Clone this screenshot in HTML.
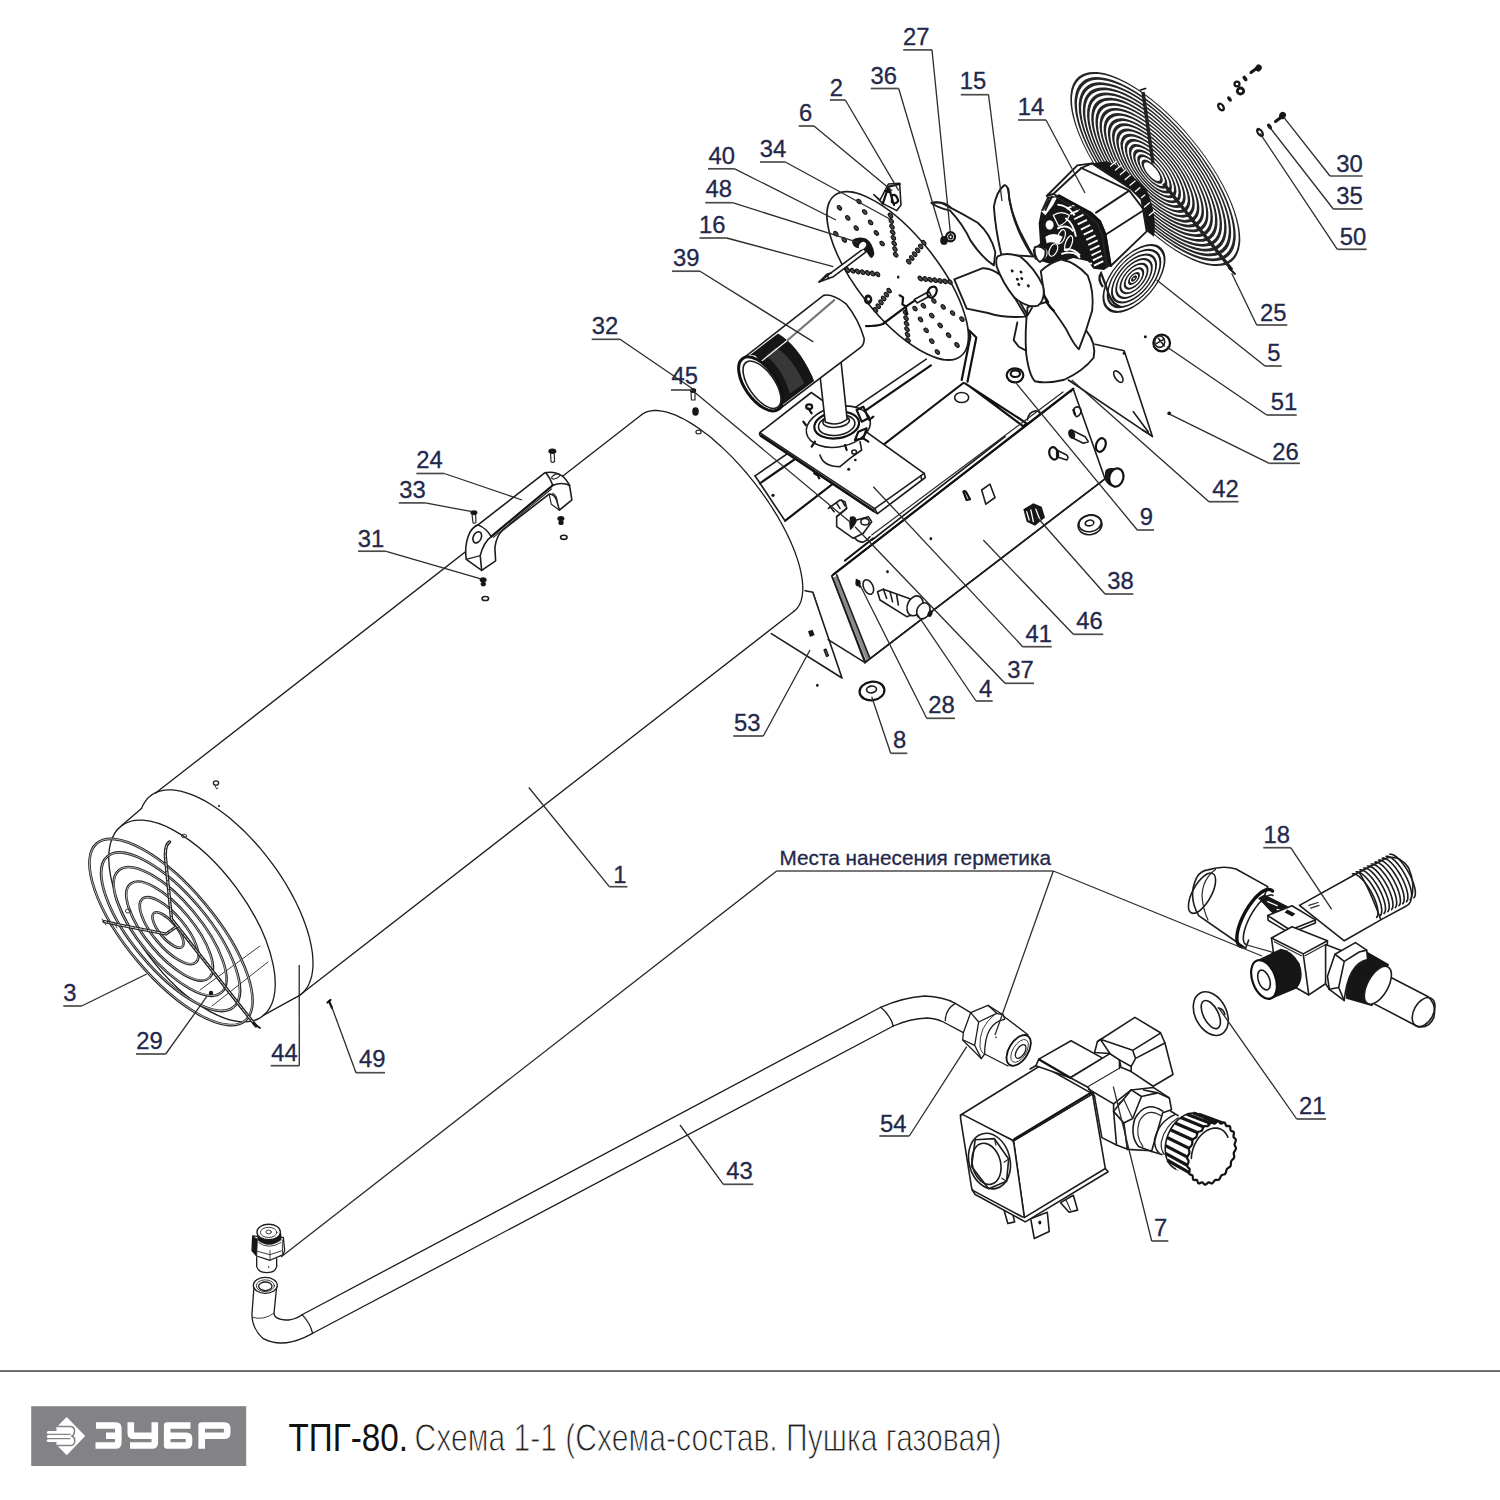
<!DOCTYPE html>
<html><head><meta charset="utf-8"><title>TPG-80</title>
<style>
html,body{margin:0;padding:0;background:#fff;}
body{width:1500px;height:1500px;overflow:hidden;font-family:"Liberation Sans",sans-serif;}
svg{display:block;position:absolute;left:0;top:0;}
svg text{font-family:"Liberation Sans",sans-serif;}
.k,.kw,.t,.tw,.b,.bw,.ld,.g1,.g2{vector-effect:non-scaling-stroke;}
.k{stroke:#1c1c1c;fill:none;stroke-width:1.3;stroke-linecap:round;stroke-linejoin:round;}
.kw{stroke:#1c1c1c;fill:#fff;stroke-width:1.3;stroke-linecap:round;stroke-linejoin:round;}
.t{stroke:#2a2a2a;fill:none;stroke-width:0.9;stroke-linecap:round;stroke-linejoin:round;}
.tw{stroke:#2a2a2a;fill:#fff;stroke-width:0.9;stroke-linecap:round;stroke-linejoin:round;}
.b{stroke:#111;fill:none;stroke-width:1.8;stroke-linecap:round;stroke-linejoin:round;}
.bw{stroke:#111;fill:#fff;stroke-width:1.8;stroke-linecap:round;stroke-linejoin:round;}
.hv .k,.hv .kw{stroke-width:1.6;}
.hv .b,.hv .bw{stroke-width:2.2;}
.hv .t,.hv .tw{stroke-width:1.2;}
.hv .hv2 .k,.hv .hv2 .kw{stroke-width:1.9;}
.f{fill:#161616;stroke:none;}
.g1{stroke:#222;fill:none;stroke-width:2.6;stroke-linecap:round;stroke-linejoin:round;}
.g2{stroke:#ddd;fill:none;stroke-width:0.8;stroke-linecap:round;stroke-linejoin:round;}
.w{fill:#fff;stroke:none;}
.sc{stroke:#151515;stroke-width:3;fill:none;stroke-linecap:round;}
.vb1{stroke:#222;fill:none;stroke-width:3.3;stroke-linecap:round;stroke-linejoin:round;}
.vb2{stroke:#ddd;fill:none;stroke-width:1.0;stroke-linecap:round;stroke-linejoin:round;stroke-dasharray:3 1.5;}
.ring{stroke:#111;stroke-width:3.4;fill:none;vector-effect:non-scaling-stroke;stroke-linecap:round;}
.hole{fill:#4a4a4a;stroke:#111;stroke-width:1.1;vector-effect:non-scaling-stroke;}
.rim{fill:#fff;stroke:#111;stroke-width:3;vector-effect:non-scaling-stroke;}
.kwh{stroke:#fff;stroke-width:1.2;fill:none;vector-effect:non-scaling-stroke;}
.hs{stroke:#777;stroke-width:2.2;fill:none;vector-effect:non-scaling-stroke;}
.ws{stroke:#fff;stroke-width:1.3;fill:none;vector-effect:non-scaling-stroke;stroke-linecap:round;}
.ws3{stroke:#fff;stroke-width:1.9;fill:none;vector-effect:non-scaling-stroke;stroke-linecap:butt;}
.ws2{stroke:#fff;stroke-width:1.2;fill:none;vector-effect:non-scaling-stroke;}
.gr1{stroke:#1a1a1a;fill:none;stroke-width:2.5;}
.gr2{stroke:#e8e8e8;fill:none;stroke-width:0.7;}
.sp1{stroke:#222;fill:none;stroke-width:3.4;}
.s51{stroke:#1c1c1c;fill:none;stroke-width:2.2;}
.s52{stroke:#f0f0f0;fill:none;stroke-width:0.7;}
.tooth{stroke:#151515;stroke-width:3.2;fill:none;vector-effect:non-scaling-stroke;stroke-linecap:butt;}
.ld{stroke:#2c2c2c;fill:none;stroke-width:1.3;}
.ul{stroke:#4a4a4a;fill:none;stroke-width:1.7;}
.lb{font-size:23.8px;fill:#23284a;stroke:#23284a;stroke-width:0.3;}
</style></head><body>
<svg width="1500" height="1500" viewBox="0 0 1500 1500">
<!-- parts_main -->
<path class="k" d="M641.6 414.7L643.6 413.3L645.9 412.2L648.4 411.4L651 410.8L653.9 410.5L656.9 410.5L660.1 410.8L663.4 411.4L666.9 412.2L670.5 413.3L674.3 414.7L678.2 416.4L682.2 418.3L686.3 420.5L690.4 422.9L694.7 425.6L699 428.5L703.3 431.7L707.8 435L712.2 438.6L716.6 442.4L721.1 446.4L725.5 450.6L729.9 454.9L734.3 459.4L738.7 464.1L742.9 468.9L747.2 473.8L751.3 478.8L755.3 483.9L759.3 489.1L763.1 494.3L766.8 499.6L770.4 505L773.8 510.3L777.1 515.7L780.2 521L783.1 526.4L785.9 531.7L788.4 536.9L790.8 542.1L793 547.2L795 552.2L796.7 557.1L798.3 561.9L799.6 566.6L800.7 571.1L801.5 575.4L802.2 579.6L802.6 583.6L802.8 587.4L802.7 591L802.4 594.3L801.9 597.5L801.2 600.4L800.2 603.1L799 605.5L797.6 607.7L795.9 609.6L794 611.3"/>
<path class="k" d="M155.6 793L641.6 414.7"/>
<path class="k" d="M298 996.5L794 611.3"/>
<path class="k" d="M141.5 808.5L143 805.1L144.8 802.1L146.8 799.3L149.1 796.9L151.6 794.9L154.5 793.2L157.5 791.8L160.8 790.8L164.4 790.1L168.1 789.9L172 789.9L176.2 790.4L180.5 791.2L184.9 792.3L189.5 793.8L194.2 795.7L199.1 797.9L204 800.4L209 803.3L214 806.5L219.1 810L224.2 813.8L229.4 817.8L234.5 822.2L239.5 826.7L244.6 831.5L249.5 836.6L254.4 841.8L259.2 847.2L263.9 852.8L268.4 858.6L272.8 864.4L277.1 870.4L281.1 876.4L285 882.5L288.6 888.7L292.1 894.9L295.3 901L298.3 907.2L301 913.3L303.4 919.3L305.6 925.3L307.6 931.2L309.2 936.9L310.5 942.5L311.6 947.9L312.4 953.2L312.8 958.2L313 963L312.9 967.6L312.4 972L311.7 976.1L310.6 979.8L309.3 983.3L307.7 986.5L305.8 989.4L303.6 992L301.2 994.2L298.5 996.1L295.5 997.6"/>
<ellipse class="k" cx="192" cy="921" rx="118.5" ry="55.4" transform="rotate(53.6 192 921)"/>
<path class="k" d="M121.7 825.6L141.5 808.5"/>
<path class="k" d="M263.3 1015.4L295.5 997.6"/>
<path class="t" d="M200 990L260 946"/>
<path class="t" d="M212 1006L268 962"/>
<ellipse class="g1" cx="171" cy="932" rx="115.6" ry="44.3" transform="rotate(50.1 171 932)"/>
<ellipse class="g2" cx="171" cy="932" rx="115.6" ry="44.3" transform="rotate(50.1 171 932)"/>
<ellipse class="g1" cx="170.6" cy="931.7" rx="98.3" ry="37.7" transform="rotate(50.1 170.6 931.7)"/>
<ellipse class="g2" cx="170.6" cy="931.7" rx="98.3" ry="37.7" transform="rotate(50.1 170.6 931.7)"/>
<ellipse class="g1" cx="170.1" cy="931.4" rx="79.8" ry="30.6" transform="rotate(50.1 170.1 931.4)"/>
<ellipse class="g2" cx="170.1" cy="931.4" rx="79.8" ry="30.6" transform="rotate(50.1 170.1 931.4)"/>
<ellipse class="g1" cx="169.6" cy="931.1" rx="61.3" ry="23.5" transform="rotate(50.1 169.6 931.1)"/>
<ellipse class="g2" cx="169.6" cy="931.1" rx="61.3" ry="23.5" transform="rotate(50.1 169.6 931.1)"/>
<ellipse class="g1" cx="169.1" cy="930.7" rx="41.6" ry="15.9" transform="rotate(50.1 169.1 930.7)"/>
<ellipse class="g2" cx="169.1" cy="930.7" rx="41.6" ry="15.9" transform="rotate(50.1 169.1 930.7)"/>
<ellipse class="g1" cx="168" cy="930" rx="22" ry="8.4" transform="rotate(50.1 168 930)"/>
<ellipse class="g2" cx="168" cy="930" rx="22" ry="8.4" transform="rotate(50.1 168 930)"/>
<path class="vb1" d="M169.5 842 Q164.5 845 165.5 858 L171.5 919 L256 1026"/>
<path class="vb1" d="M104 921.5 L120 925 L166 934 L176 927"/>
<path class="vb2" d="M169.5 842 Q164.5 845 165.5 858 L171.5 919 L256 1026"/>
<path class="vb2" d="M104 921.5 L120 925 L166 934 L176 927"/>
<path class="t" d="M102 919 l4 6 M108 920 l3 6 M114 922 l3 6"/>
<path class="b" d="M253 1023 l7 5"/>
<ellipse class="t" cx="184" cy="836" rx="2.6" ry="1.8" transform="rotate(0 184 836)"/>
<ellipse class="t" cx="128" cy="911" rx="2.6" ry="2" transform="rotate(0 128 911)"/>
<circle class="f" cx="211" cy="993" r="2.2"/>
<ellipse class="k" cx="216" cy="783" rx="2.6" ry="2.2" transform="rotate(0 216 783)"/>
<path class="t" d="M215 785 l1.5 4 l1.5 -1"/>
<circle class="f" cx="219" cy="806" r="1"/>
<g class="hv">
<g transform="translate(390,420) scale(0.14667)">
<path class="kw" d="M600 715 L1055 360 Q1120 345 1180 385 Q1225 430 1228 470 L1240 545 L1155 615 L1140 560 Q1125 505 1085 505 L770 750 Q725 790 715 870 L720 960 L625 1025 L520 950 Q505 850 545 765 Q570 725 600 715Z"/>
<path class="b" d="M690 795 L1110 445"/>
<path class="t" d="M705 800 L1100 470"/>
<path class="k" d="M600 715 Q660 740 690 795 Q640 830 615 925 L625 1025"/>
<path class="t" d="M520 950 L615 925"/>
<ellipse class="k" cx="595" cy="800" rx="27" ry="40" transform="rotate(25 595 800)"/>
<ellipse class="t" cx="1130" cy="385" rx="30" ry="14" transform="rotate(-25 1130 385)"/>
<path class="k" d="M1062 358 Q1095 400 1110 445 Q1170 420 1226 445"/>
<path class="t" d="M1085 505 L1100 575 L1155 615 M1110 500 Q1140 520 1140 560"/>
<ellipse class="f" cx="1107" cy="213" rx="27" ry="18" transform="rotate(0 1107 213)"/>
<path class="t" d="M1095 230 L1098 285 Q1110 295 1122 283 L1120 230"/>
<ellipse class="f" cx="572" cy="633" rx="24" ry="17" transform="rotate(0 572 633)"/>
<path class="t" d="M560 650 L566 700 Q576 708 586 698 L584 650"/>
<ellipse class="f" cx="1165" cy="672" rx="24" ry="18" transform="rotate(0 1165 672)"/>
<ellipse class="f" cx="1166" cy="700" rx="18" ry="16" transform="rotate(0 1166 700)"/>
<ellipse class="f" cx="635" cy="1090" rx="24" ry="18" transform="rotate(0 635 1090)"/>
<ellipse class="f" cx="636" cy="1118" rx="18" ry="16" transform="rotate(0 636 1118)"/>
<ellipse class="k" cx="1185" cy="800" rx="22" ry="14" transform="rotate(0 1185 800)"/>
<ellipse class="k" cx="650" cy="1217" rx="22" ry="14" transform="rotate(0 650 1217)"/>
</g>
</g>
<!-- parts_box -->
<g class="hv">
<path class="k" d="M755 475.8L926.3 359.1"/>
<path class="b" d="M760 483.3L930.9 365.3"/>
<path class="b" d="M963.3 383L785 520.8"/>
<path class="k" d="M755 475.8L785 520.8"/>
<circle class="f" cx="773" cy="495.3" r="1.6"/>
<g transform="translate(940,330) scale(0.16667)">
<path class="b" d="M130 300 L182 40 L172 0 M165 310 L218 45 L172 0"/>
<path class="b" d="M150 320 L520 560 M178 338 L500 578 L520 560"/>
<path class="k" d="M525 540 Q530 490 575 485 Q600 490 600 505"/>
<ellipse class="k" cx="130" cy="405" rx="42" ry="30" transform="rotate(0 130 405)"/>
</g>
<g transform="translate(730,400) scale(0.16667)">
<path class="kw" d="M180 195 L488 -45 L1165 440 L1172 465 L885 682 L860 668 L185 218 Q172 205 180 195Z"/>
<path class="k" d="M180 197 L868 652 L1165 440"/>
<path class="b" d="M188 214 L862 664"/>
<path class="k" d="M868 652 L885 682 M1145 455 L1150 478"/>
<path class="b" d="M500 425 l25 20 l10 25 M505 440 l25 15"/>
<path class="k" d="M540 330 Q560 400 660 400 L720 350 L790 300 L780 250"/>
<ellipse class="f" cx="712" cy="415" rx="9" ry="9" transform="rotate(0 712 415)"/>
<ellipse class="f" cx="752" cy="360" rx="8" ry="8" transform="rotate(0 752 360)"/>
<ellipse class="k" cx="745" cy="312" rx="14" ry="12" transform="rotate(0 745 312)"/>
<ellipse class="kw" cx="650" cy="160" rx="195" ry="120" transform="rotate(-12 650 160)"/>
<ellipse class="bw" cx="640" cy="150" rx="135" ry="80" transform="rotate(-8 640 150)"/>
<ellipse class="k" cx="640" cy="150" rx="110" ry="62" transform="rotate(-8 640 150)"/>
<path class="b" d="M455 150 L440 130 M510 250 L490 280 M835 120 L860 100 M800 230 L830 250 M690 270 L700 300"/>
<ellipse class="b" cx="475" cy="40" rx="18" ry="14" transform="rotate(0 475 40)"/>
<path class="b" d="M470 50 L490 80"/>
<path class="b" d="M760 60 L800 40 L830 110 L790 130Z M770 190 L820 170 L800 230 L750 240Z"/>
<ellipse class="kw" cx="637" cy="128" rx="80" ry="36" transform="rotate(-5 637 128)"/>
<path class="kw" d="M590 650 L660 600 L690 610 L700 650 L640 700 L640 760 L740 830 L800 800 L850 730 L830 700 L760 720"/>
<path class="k" d="M600 640 L625 670 M640 620 L660 650 M670 600 L690 635 M640 700 L700 650"/>
<path class="f" d="M720 700 Q760 690 760 730 Q740 770 720 780 Q710 740 720 700Z"/>
<ellipse class="k" cx="810" cy="730" rx="25" ry="20" transform="rotate(0 810 730)"/>
<path class="k" d="M750 830 Q790 880 840 820"/>
</g>
<path class="kw" d="M831.7 575.8L1073.3 389.2L1105 478.8L864.9 662.7Z"/>
<path class="b" d="M833.2 574.6L1073.3 388.6"/>
<path class="k" d="M872 540L1005 436.5"/>
<path class="b" d="M845 560.5L873 538.5"/>
<path class="t" d="M871.7 535L1063 392"/>
<path d="M834.9 576.8L868.1 659.7" stroke="#8a8a8a" stroke-width="4" fill="none"/>
<path class="k" d="M832.2 576.8L865.4 661.7"/>
<path class="k" d="M836.7 574.8L869.9 658.2"/>
<path class="k" d="M864.9 662.7L1105 478.8"/>
<g transform="translate(940,330) scale(0.16667)">
<path class="f" d="M800 355 l-25 10 l12 12Z"/>
<path class="k" d="M805 470 Q825 450 845 475 Q850 510 820 520 Q800 510 805 470Z"/>
<path class="b" d="M800 480 l10 25"/>
<path class="kw" d="M790 600 L870 640 L890 670 L860 680 L800 650Z"/>
<ellipse class="f" cx="790" cy="625" rx="20" ry="30" transform="rotate(-20 790 625)"/>
<ellipse class="b" cx="965" cy="690" rx="28" ry="42" transform="rotate(20 965 690)"/>
<path class="kw" d="M700 720 L760 750 Q775 765 760 780 L700 760Z"/>
<ellipse class="b" cx="682" cy="740" rx="26" ry="38" transform="rotate(-15 682 740)"/>
<path class="b" d="M140 970 L160 1020 L180 1015 M140 970 Q150 960 158 975 L180 1015"/>
<path class="k" d="M250 960 L300 925 L330 1005 L275 1045Z"/>
<path class="f" d="M500 1075 L560 1040 L610 1060 L630 1125 L570 1175 L520 1150Z"/>
<path class="ws" d="M545 1080 L560 1150 M575 1075 L600 1140 M520 1090 L535 1140"/>
<path class="f" d="M990 850 Q1000 820 1050 830 L1060 940 Q1010 945 990 900Z"/>
<ellipse class="bw" cx="1058" cy="885" rx="42" ry="55" transform="rotate(15 1058 885)"/>
<ellipse class="kw" cx="900" cy="1170" rx="72" ry="58" transform="rotate(-10 900 1170)"/>
<ellipse class="k" cx="900" cy="1160" rx="68" ry="50" transform="rotate(-10 900 1160)"/>
<ellipse class="k" cx="897" cy="1158" rx="26" ry="17" transform="rotate(-10 897 1158)"/>
<ellipse class="bw" cx="450" cy="272" rx="50" ry="42" transform="rotate(0 450 272)"/>
<ellipse class="b" cx="452" cy="262" rx="28" ry="20" transform="rotate(0 452 262)"/>
<ellipse class="bw" cx="1330" cy="78" rx="50" ry="50" transform="rotate(0 1330 78)"/>
<ellipse class="k" cx="1318" cy="70" rx="30" ry="34" transform="rotate(0 1318 70)"/>
<path class="k" d="M1310 50 L1345 95 M1345 55 L1300 80"/>
<ellipse class="f" cx="1232" cy="40" rx="9" ry="9" transform="rotate(0 1232 40)"/>
<ellipse class="f" cx="1375" cy="500" rx="11" ry="11" transform="rotate(0 1375 500)"/>
<path class="k" d="M770 300 L1275 640 L1105 125 L930 85"/>
<ellipse class="k" cx="1070" cy="280" rx="20" ry="40" transform="rotate(-35 1070 280)"/>
<path class="k" d="M1160 490 L1250 612 M1215 600 L1262 628"/>
<ellipse class="f" cx="1103" cy="140" rx="7" ry="9" transform="rotate(0 1103 140)"/>
</g>
<g transform="translate(730,400) scale(0.16667)">
<ellipse class="k" cx="830" cy="1122" rx="28" ry="46" transform="rotate(-25 830 1122)"/>
<ellipse class="f" cx="768" cy="1098" rx="16" ry="20" transform="rotate(0 768 1098)"/>
<path class="b" d="M760 1080 l20 40"/>
<ellipse class="f" cx="945" cy="1030" rx="8" ry="10" transform="rotate(0 945 1030)"/>
<ellipse class="f" cx="1205" cy="832" rx="8" ry="10" transform="rotate(0 1205 832)"/>
<path class="kw" d="M885 1150 L920 1135 L1100 1200 L1090 1290 L1060 1300 L900 1200Z"/>
<path class="k" d="M920 1135 L940 1190 M960 1150 L975 1210 M1000 1170 L1010 1230"/>
<ellipse class="kw" cx="1110" cy="1235" rx="45" ry="62" transform="rotate(25 1110 1235)"/>
<ellipse class="kw" cx="1160" cy="1265" rx="38" ry="50" transform="rotate(25 1160 1265)"/>
<ellipse class="f" cx="1200" cy="1282" rx="14" ry="20" transform="rotate(25 1200 1282)"/>
<path class="k" d="M451 1144 L497 1153 L672 1668 L248 1402"/>
<path class="k" d="M589 1438 L810 1576"/>
<path class="t" d="M497 1153 L530 1250"/>
<path class="f" d="M468 1388 L495 1378 L508 1410 L480 1422Z"/>
<path class="k" d="M565 1500 l15 38 l10 -5 l-15 -38Z"/>
<ellipse class="f" cx="524" cy="1712" rx="8" ry="9" transform="rotate(0 524 1712)"/>
</g>
<ellipse class="bw" cx="872" cy="691" rx="12.5" ry="9.2" transform="rotate(-8 872 691)"/>
<ellipse class="k" cx="871.5" cy="689.5" rx="5" ry="3.4" transform="rotate(-8 871.5 689.5)"/>
<ellipse class="f" cx="693" cy="390.5" rx="3.2" ry="2.6" transform="rotate(0 693 390.5)"/>
<path class="t" d="M691 393 l0.5 7 l3.5 0 l0 -7"/>
<ellipse class="f" cx="695.5" cy="411.5" rx="3.3" ry="4.2" transform="rotate(0 695.5 411.5)"/>
<ellipse class="t" cx="698.5" cy="432" rx="2.6" ry="1.9" transform="rotate(0 698.5 432)"/>
<path class="sc" d="M1275.5 121.5 l6 -4.5"/>
<ellipse class="f" cx="1282.5" cy="115.5" rx="3.3" ry="3.8" transform="rotate(30 1282.5 115.5)"/>
<ellipse class="f" cx="1269.5" cy="126.5" rx="1.9" ry="3.3" transform="rotate(-35 1269.5 126.5)"/>
<ellipse class="f" cx="1260" cy="132.5" rx="3.2" ry="5.2" transform="rotate(-35 1260 132.5)"/>
<ellipse class="w" cx="1260" cy="132.5" rx="1.1" ry="2.4" transform="rotate(-35 1260 132.5)"/>
<ellipse class="f" cx="1221" cy="107" rx="3.4" ry="5" transform="rotate(-35 1221 107)"/>
<ellipse class="w" cx="1221" cy="107" rx="1.2" ry="2.4" transform="rotate(-35 1221 107)"/>
<ellipse class="f" cx="1229.5" cy="99" rx="1.8" ry="3" transform="rotate(-35 1229.5 99)"/>
<ellipse class="f" cx="1237" cy="84" rx="3.6" ry="3.6" transform="rotate(0 1237 84)"/>
<ellipse class="f" cx="1240.5" cy="91" rx="4.6" ry="4.4" transform="rotate(0 1240.5 91)"/>
<ellipse class="w" cx="1237" cy="84" rx="1.3" ry="1.3" transform="rotate(0 1237 84)"/>
<ellipse class="w" cx="1240.5" cy="91" rx="1.8" ry="1.6" transform="rotate(0 1240.5 91)"/>
<ellipse class="f" cx="1245" cy="78.5" rx="1.9" ry="3.2" transform="rotate(-35 1245 78.5)"/>
<path class="sc" d="M1251 72.5 l6 -4.5"/>
<ellipse class="f" cx="1258.5" cy="68" rx="3.2" ry="3.6" transform="rotate(30 1258.5 68)"/>
<path class="b" d="M329 1001 l3 7 M327.5 1002.5 l3 -2.5"/>
</g>
<!-- parts_grille -->
<g transform="translate(1155.3,169) rotate(50.2) scale(1,0.3948)" fill="none" stroke="#262626">
<circle cx="0" cy="0" r="118.8" stroke-width="2.4"/>
<circle cx="0" cy="0.6" r="112.1" stroke-width="3.4"/>
<circle cx="0" cy="1.2" r="105.9" stroke-width="3.4"/>
<circle cx="0" cy="1.9" r="99.8" stroke-width="3.4"/>
<circle cx="0" cy="2.5" r="93.6" stroke-width="3.4"/>
<circle cx="0" cy="3.1" r="87.4" stroke-width="3.4"/>
<circle cx="0" cy="3.7" r="81.2" stroke-width="3.4"/>
<circle cx="0" cy="4.3" r="75.1" stroke-width="3.4"/>
<circle cx="0" cy="4.9" r="68.9" stroke-width="3.4"/>
<circle cx="0" cy="5.6" r="62.7" stroke-width="3.4"/>
<circle cx="0" cy="6.2" r="56.5" stroke-width="3.4"/>
<circle cx="0" cy="6.8" r="50.4" stroke-width="3.4"/>
<circle cx="0" cy="7.4" r="44.2" stroke-width="3.4"/>
<circle cx="0" cy="8" r="38" stroke-width="3.4"/>
<circle cx="0" cy="8.6" r="31.8" stroke-width="3.4"/>
<circle cx="0" cy="9.3" r="25.7" stroke-width="3.4"/>
<circle cx="0" cy="9.9" r="19.5" stroke-width="3.4"/>
<circle cx="0" cy="10.5" r="13.3" stroke-width="3.4"/>
</g>
<path class="sp1" d="M1153 163.5 L1143 92"/>
<path class="sp1" d="M1163.5 183.5 L1232 270"/>
<path class="b" d="M1140.5 90 l5 -1.5"/>
<path class="b" d="M1229 268 l6 6"/>
<g transform="translate(1134,278.5) rotate(-49.5) scale(1,0.5366)" fill="none" stroke="#1d1d1d">
<circle cx="0" cy="0" r="39.8" stroke-width="2.4"/>
<circle cx="0" cy="0" r="34.3" stroke-width="2.4"/>
<circle cx="0" cy="0" r="28.7" stroke-width="2.4"/>
<circle cx="0" cy="0" r="23.2" stroke-width="2.4"/>
<circle cx="0" cy="0" r="17.7" stroke-width="2.4"/>
<circle cx="0" cy="0" r="12.1" stroke-width="2.4"/>
<circle cx="0" cy="0" r="6.6" stroke-width="2.4"/>
<circle cx="0" cy="0" r="2.5" stroke-width="2.5"/>
</g>
<path class="s51" d="M1103 287 q-6 -8 -2 -14 q4 10 8 22 q4 10 12 12"/>
<!-- parts_top -->
<g class="hv">
<g transform="translate(720,280) scale(0.14000)">
<path class="kw" d="M715 690 L752 1015 Q830 1050 908 995 L865 585Z"/>
<path class="kw" d="M165 560 L740 110 Q800 95 900 170 Q990 280 1030 420 Q1030 465 1000 485 L420 925 Z"/>
<path class="f" d="M215 535 L415 382 Q560 470 660 690 L672 722 L455 885 Q420 700 250 540Z"/>
<path d="M400 480 Q520 560 600 740 L500 810 Q450 640 330 540Z" fill="#555" opacity="0.55"/>
<path class="kwh" d="M290 585 L480 432"/>
<path class="hs" d="M480 432 L820 140"/>
<ellipse class="rim" cx="290" cy="742" rx="112" ry="222" transform="rotate(-35 290 742)"/>
<ellipse class="k" cx="300" cy="748" rx="92" ry="196" transform="rotate(-35 300 748)"/>
</g>
<ellipse class="kw" cx="897.7" cy="275.8" rx="102.2" ry="40.4" transform="rotate(51.8 897.7 275.8)"/>
<g transform="translate(810,170) scale(0.14000)">
<ellipse class="hole" cx="575" cy="325" rx="19" ry="12.5" transform="rotate(48 575 325)"/>
<ellipse class="hole" cx="580.3" cy="365" rx="19" ry="12.5" transform="rotate(48 580.3 365)"/>
<ellipse class="hole" cx="585.6" cy="405" rx="19" ry="12.5" transform="rotate(48 585.6 405)"/>
<ellipse class="hole" cx="590.9" cy="445" rx="19" ry="12.5" transform="rotate(48 590.9 445)"/>
<ellipse class="hole" cx="596.1" cy="485" rx="19" ry="12.5" transform="rotate(48 596.1 485)"/>
<ellipse class="hole" cx="601.4" cy="525" rx="19" ry="12.5" transform="rotate(48 601.4 525)"/>
<ellipse class="hole" cx="606.7" cy="565" rx="19" ry="12.5" transform="rotate(48 606.7 565)"/>
<ellipse class="hole" cx="612" cy="605" rx="19" ry="12.5" transform="rotate(48 612 605)"/>
<ellipse class="hole" cx="705" cy="655" rx="19" ry="12.5" transform="rotate(48 705 655)"/>
<ellipse class="hole" cx="726.4" cy="628" rx="19" ry="12.5" transform="rotate(48 726.4 628)"/>
<ellipse class="hole" cx="747.8" cy="601" rx="19" ry="12.5" transform="rotate(48 747.8 601)"/>
<ellipse class="hole" cx="769.2" cy="574" rx="19" ry="12.5" transform="rotate(48 769.2 574)"/>
<ellipse class="hole" cx="790.6" cy="547" rx="19" ry="12.5" transform="rotate(48 790.6 547)"/>
<ellipse class="hole" cx="812" cy="520" rx="19" ry="12.5" transform="rotate(48 812 520)"/>
<ellipse class="hole" cx="788" cy="775" rx="19" ry="12.5" transform="rotate(48 788 775)"/>
<ellipse class="hole" cx="823.3" cy="779.2" rx="19" ry="12.5" transform="rotate(48 823.3 779.2)"/>
<ellipse class="hole" cx="858.7" cy="783.3" rx="19" ry="12.5" transform="rotate(48 858.7 783.3)"/>
<ellipse class="hole" cx="894" cy="787.5" rx="19" ry="12.5" transform="rotate(48 894 787.5)"/>
<ellipse class="hole" cx="929.3" cy="791.7" rx="19" ry="12.5" transform="rotate(48 929.3 791.7)"/>
<ellipse class="hole" cx="964.7" cy="795.8" rx="19" ry="12.5" transform="rotate(48 964.7 795.8)"/>
<ellipse class="hole" cx="1000" cy="800" rx="19" ry="12.5" transform="rotate(48 1000 800)"/>
<ellipse class="hole" cx="268" cy="715" rx="19" ry="12.5" transform="rotate(48 268 715)"/>
<ellipse class="hole" cx="303.8" cy="720" rx="19" ry="12.5" transform="rotate(48 303.8 720)"/>
<ellipse class="hole" cx="339.7" cy="725" rx="19" ry="12.5" transform="rotate(48 339.7 725)"/>
<ellipse class="hole" cx="375.5" cy="730" rx="19" ry="12.5" transform="rotate(48 375.5 730)"/>
<ellipse class="hole" cx="411.3" cy="735" rx="19" ry="12.5" transform="rotate(48 411.3 735)"/>
<ellipse class="hole" cx="447.2" cy="740" rx="19" ry="12.5" transform="rotate(48 447.2 740)"/>
<ellipse class="hole" cx="483" cy="745" rx="19" ry="12.5" transform="rotate(48 483 745)"/>
<ellipse class="hole" cx="565" cy="862" rx="19" ry="12.5" transform="rotate(48 565 862)"/>
<ellipse class="hole" cx="545.6" cy="889.6" rx="19" ry="12.5" transform="rotate(48 545.6 889.6)"/>
<ellipse class="hole" cx="526.2" cy="917.2" rx="19" ry="12.5" transform="rotate(48 526.2 917.2)"/>
<ellipse class="hole" cx="506.8" cy="944.8" rx="19" ry="12.5" transform="rotate(48 506.8 944.8)"/>
<ellipse class="hole" cx="487.4" cy="972.4" rx="19" ry="12.5" transform="rotate(48 487.4 972.4)"/>
<ellipse class="hole" cx="468" cy="1000" rx="19" ry="12.5" transform="rotate(48 468 1000)"/>
<ellipse class="hole" cx="683" cy="1020" rx="19" ry="12.5" transform="rotate(48 683 1020)"/>
<ellipse class="hole" cx="686.4" cy="1059" rx="19" ry="12.5" transform="rotate(48 686.4 1059)"/>
<ellipse class="hole" cx="689.8" cy="1098" rx="19" ry="12.5" transform="rotate(48 689.8 1098)"/>
<ellipse class="hole" cx="693.2" cy="1137" rx="19" ry="12.5" transform="rotate(48 693.2 1137)"/>
<ellipse class="hole" cx="696.6" cy="1176" rx="19" ry="12.5" transform="rotate(48 696.6 1176)"/>
<ellipse class="hole" cx="700" cy="1215" rx="19" ry="12.5" transform="rotate(48 700 1215)"/>
<ellipse class="hole" cx="210" cy="270" rx="19" ry="12.5" transform="rotate(48 210 270)"/>
<ellipse class="hole" cx="270" cy="342.5" rx="19" ry="12.5" transform="rotate(48 270 342.5)"/>
<ellipse class="hole" cx="330" cy="415" rx="19" ry="12.5" transform="rotate(48 330 415)"/>
<ellipse class="hole" cx="350" cy="225" rx="19" ry="12.5" transform="rotate(48 350 225)"/>
<ellipse class="hole" cx="391.2" cy="300" rx="19" ry="12.5" transform="rotate(48 391.2 300)"/>
<ellipse class="hole" cx="432.5" cy="375" rx="19" ry="12.5" transform="rotate(48 432.5 375)"/>
<ellipse class="hole" cx="473.8" cy="450" rx="19" ry="12.5" transform="rotate(48 473.8 450)"/>
<ellipse class="hole" cx="515" cy="525" rx="19" ry="12.5" transform="rotate(48 515 525)"/>
<ellipse class="hole" cx="185" cy="455" rx="19" ry="12.5" transform="rotate(48 185 455)"/>
<ellipse class="hole" cx="245" cy="500" rx="19" ry="12.5" transform="rotate(48 245 500)"/>
<ellipse class="hole" cx="885" cy="935" rx="19" ry="12.5" transform="rotate(48 885 935)"/>
<ellipse class="hole" cx="951.7" cy="978.3" rx="19" ry="12.5" transform="rotate(48 951.7 978.3)"/>
<ellipse class="hole" cx="1018.3" cy="1021.7" rx="19" ry="12.5" transform="rotate(48 1018.3 1021.7)"/>
<ellipse class="hole" cx="1085" cy="1065" rx="19" ry="12.5" transform="rotate(48 1085 1065)"/>
<ellipse class="hole" cx="810" cy="970" rx="19" ry="12.5" transform="rotate(48 810 970)"/>
<ellipse class="hole" cx="870" cy="1040" rx="19" ry="12.5" transform="rotate(48 870 1040)"/>
<ellipse class="hole" cx="930" cy="1110" rx="19" ry="12.5" transform="rotate(48 930 1110)"/>
<ellipse class="hole" cx="990" cy="1180" rx="19" ry="12.5" transform="rotate(48 990 1180)"/>
<ellipse class="hole" cx="1050" cy="1250" rx="19" ry="12.5" transform="rotate(48 1050 1250)"/>
<ellipse class="hole" cx="750" cy="990" rx="19" ry="12.5" transform="rotate(48 750 990)"/>
<ellipse class="hole" cx="790" cy="1067.5" rx="19" ry="12.5" transform="rotate(48 790 1067.5)"/>
<ellipse class="hole" cx="830" cy="1145" rx="19" ry="12.5" transform="rotate(48 830 1145)"/>
<ellipse class="hole" cx="870" cy="1222.5" rx="19" ry="12.5" transform="rotate(48 870 1222.5)"/>
<ellipse class="hole" cx="910" cy="1300" rx="19" ry="12.5" transform="rotate(48 910 1300)"/>
<ellipse class="f" cx="630" cy="765" rx="9" ry="12" transform="rotate(0 630 765)"/>
<path class="kw" d="M65 800 L150 735 L385 560 L400 585 L170 760 Z"/>
<path class="k" d="M65 800 L120 745 L150 735 M120 745 L135 775"/>
<path class="f" d="M300 500 Q340 470 400 490 Q450 520 460 600 Q440 650 420 610 Q400 560 330 555 Q300 540 300 500Z"/>
<ellipse class="w" cx="375" cy="540" rx="22" ry="30" transform="rotate(40 375 540)"/>
<path class="kw" d="M745 925 L850 868 L865 895 L765 950Z"/>
<ellipse class="b" cx="872" cy="872" rx="30" ry="42" transform="rotate(30 872 872)"/>
<path class="b" d="M400 1115 Q480 1115 520 1100 L700 965 L745 935"/>
<path class="b" d="M640 895 L665 910 L660 960 L685 975 L690 1030"/>
<ellipse class="f" cx="415" cy="925" rx="30" ry="36" transform="rotate(0 415 925)"/>
<ellipse class="w" cx="418" cy="922" rx="10" ry="12" transform="rotate(0 418 922)"/>
<path class="kw" d="M455 175 L500 215 L560 100 L640 95 L650 250 L620 290 L560 260 L520 240Z"/>
<path class="b" d="M520 240 L560 120 L600 250 M560 120 L640 100 M585 180 Q620 170 630 220 Q610 250 585 230Z M540 150 L575 160"/>
</g>
<g class="hv2">
<g transform="translate(960,130) scale(0.13333)">
<path class="f" d="M990 250 L1100 235 Q1260 290 1400 450 Q1480 640 1455 800 L1400 760 L1360 520 L1280 440Z"/>
<path class="ws" d="M1130 270l38 -32"/>
<path class="ws" d="M1166.2 300.9l38 -32"/>
<path class="ws" d="M1202.5 334.2l38 -32"/>
<path class="ws" d="M1238.8 371.8l38 -32"/>
<path class="ws" d="M1275 415l38 -32"/>
<path class="ws" d="M1311.2 464.3l38 -32"/>
<path class="ws" d="M1347.5 519.2l38 -32"/>
<path class="ws" d="M1383.8 578.4l38 -32"/>
<path class="ws" d="M1420 640l38 -32"/>
<path class="f" d="M655 500 L740 495 L980 625 L1050 690 L1090 785 L1125 1020 L1080 1050 L1000 1040 L960 985 L850 960 L700 1010 L560 970 L545 900 L600 850 L590 700 L610 600Z"/>
<path class="ws3" d="M800 592l70 -34"/>
<path class="ws3" d="M828.5 630.6l70 -34"/>
<path class="ws3" d="M856.2 669.3l70 -34"/>
<path class="ws3" d="M882.4 707.9l70 -34"/>
<path class="ws3" d="M906.4 746.5l70 -34"/>
<path class="ws3" d="M927.8 785.2l70 -34"/>
<path class="ws3" d="M946.5 823.8l70 -34"/>
<path class="ws3" d="M962.3 862.5l70 -34"/>
<path class="ws3" d="M975.5 901.1l70 -34"/>
<path class="ws3" d="M986.6 939.7l70 -34"/>
<path class="ws3" d="M996.2 978.4l70 -34"/>
<path class="ws3" d="M1005 1017l70 -34"/>
<path class="w" d="M610 610 L660 520 L730 500 L700 560 L640 640Z"/>
<path class="k" d="M620 600 L665 525 M690 500 L640 600"/>
<path class="ws2" d="M700 640 Q760 600 820 640 Q800 700 740 720Z"/>
<path class="ws3" d="M730 740 Q800 700 850 760 M760 930 Q860 900 900 960"/>
<ellipse class="w" cx="672" cy="712" rx="30" ry="36" transform="rotate(0 672 712)"/>
<path class="w" d="M640 800 Q700 760 770 800 L740 860 Q690 830 650 850Z"/>
<path class="ws3" d="M790 660 Q850 700 870 800 M780 900 Q840 880 900 940 M905 980 Q950 1010 990 1000"/>
<path class="ws3" d="M730 560 Q800 560 860 640"/>
<ellipse class="ws2" cx="760" cy="800" rx="26" ry="55" transform="rotate(20 760 800)"/>
<ellipse class="ws2" cx="815" cy="850" rx="24" ry="60" transform="rotate(20 815 850)"/>
<ellipse class="ws2" cx="700" cy="900" rx="28" ry="50" transform="rotate(25 700 900)"/>
<ellipse class="ws2" cx="620" cy="930" rx="30" ry="40" transform="rotate(25 620 930)"/>
<path class="kw" d="M560 880 Q600 860 640 900 Q650 960 600 990 Q555 960 560 880Z"/>
<path class="kw" d="M700 480 L910 285 L990 250 L1280 440 L1360 520 L1400 760 L1130 1020 L1090 780 L1050 685 L980 620 Z"/>
<path class="k" d="M650 495 L880 265 L990 250 M650 495 L700 480"/>
<path class="k" d="M1020 620 L1270 455 M1100 780 L1380 600 M910 285 L1270 455 L1380 600"/>
<path class="b" d="M740 490 L980 620 L1050 685 L1090 780 L1130 1020"/>
<path class="t" d="M1100 1030 L1068 795 L1030 700 L960 640 L720 505"/>
</g>
</g>
<g class="hv2">
<g transform="translate(900,170) scale(0.14667)">
<path class="kw" d="M370 745 L560 670 Q620 665 690 720 L860 1000 Q700 1010 600 975 L455 945 Z"/>
<path class="kw" d="M215 225 Q260 205 330 250 Q430 300 530 360 Q620 440 650 560 L640 650 Q560 600 480 480 Q430 370 340 275 Q260 260 215 225Z"/>
<path class="k" d="M215 225 Q300 210 345 255"/>
<path class="kw" d="M690 575 Q650 400 640 250 Q660 140 712 103 Q740 100 745 200 Q775 350 850 480 Q880 540 910 590 Z"/>
<path class="k" d="M738 125 Q750 300 830 460 Q860 520 893 572"/>
<path class="kw" d="M870 935 Q850 1100 860 1250 Q880 1400 920 1440 Q1000 1460 1120 1430 Q1250 1370 1320 1280 Q1340 1180 1270 1095 L1000 900Z"/>
<path class="kw" d="M960 690 Q1010 640 1100 610 Q1200 630 1280 720 Q1325 830 1310 960 Q1270 1100 1220 1222 Q1190 1200 1130 1080 Q1050 960 1000 900 L985 860Z"/>
<path class="b" d="M1000 900 Q1020 940 1050 960 M985 860 L1010 900"/>
<path class="kw" d="M665 590 Q720 555 820 590 Q920 670 975 790 Q995 880 940 925 Q870 945 780 870 Q700 770 660 660 Q650 610 665 590Z"/>
<ellipse class="f" cx="765" cy="688" rx="11" ry="9" transform="rotate(40 765 688)"/>
<ellipse class="f" cx="825" cy="695" rx="11" ry="9" transform="rotate(40 825 695)"/>
<ellipse class="f" cx="800" cy="745" rx="11" ry="9" transform="rotate(40 800 745)"/>
<ellipse class="f" cx="830" cy="740" rx="11" ry="9" transform="rotate(40 830 740)"/>
<ellipse class="f" cx="810" cy="780" rx="11" ry="9" transform="rotate(40 810 780)"/>
<ellipse class="f" cx="875" cy="790" rx="11" ry="9" transform="rotate(40 875 790)"/>
<path class="k" d="M820 905 L870 990 L900 940"/>
<path class="k" d="M800 1040 L775 1160 L810 1205 L860 1232"/>
</g>
</g>
<g transform="translate(900,170) scale(0.14667)">
<ellipse class="f" cx="300" cy="480" rx="26" ry="30" transform="rotate(0 300 480)"/>
<ellipse class="b" cx="345" cy="455" rx="30" ry="32" transform="rotate(0 345 455)"/>
<ellipse class="k" cx="345" cy="455" rx="12" ry="14" transform="rotate(0 345 455)"/>
</g>
</g>
<!-- parts_valve -->
<path class="k" d="M302 1314.7L880.7 1007.3"/>
<path class="k" d="M312.7 1333.3L893.3 1026"/>
<g transform="translate(230,1200) scale(0.13333)">
<path class="k" d="M180 650 L165 850 Q160 960 250 1040 Q380 1110 560 1030 L620 1000"/>
<path class="k" d="M350 650 L330 850 Q335 900 440 900 Q500 890 540 860"/>
<path class="k" d="M540 860 Q600 920 620 1000"/>
<path class="t" d="M170 880 Q250 905 328 850"/>
<ellipse class="kw" cx="265" cy="640" rx="90" ry="60" transform="rotate(0 265 640)"/>
<ellipse class="t" cx="265" cy="643" rx="68" ry="44" transform="rotate(0 265 643)"/>
<ellipse class="k" cx="265" cy="647" rx="50" ry="32" transform="rotate(0 265 647)"/>
<path class="kw" d="M200 430 L200 500 Q215 545 275 545 Q340 545 350 500 L350 440"/>
<path class="kw" d="M170 270 L165 380 L200 420 L300 452 L395 412 L410 380 L400 280 Z"/>
<path class="t" d="M200 420 L205 300 M300 452 L300 380 M395 412 L392 300 M205 385 L300 410 L392 380"/>
<path class="f" d="M170 270 L165 380 L200 420 L205 290Z"/>
<path class="f" d="M205 300 Q290 370 385 300 L385 250 L205 250Z"/>
<path class="t" d="M215 320 Q290 375 380 320"/>
<ellipse class="kw" cx="290" cy="240" rx="88" ry="58" transform="rotate(0 290 240)"/>
<ellipse class="t" cx="290" cy="243" rx="62" ry="38" transform="rotate(0 290 243)"/>
<ellipse class="t" cx="290" cy="240" rx="20" ry="14" transform="rotate(0 290 240)"/>
<ellipse class="f" cx="290" cy="502" rx="6" ry="6" transform="rotate(0 290 502)"/>
</g>
<g transform="translate(850,960) scale(0.13333)">
<path class="k" d="M230 355 Q400 280 560 270 Q700 275 790 325 L905 395"/>
<path class="k" d="M325 495 Q450 440 580 435 Q650 440 700 465 L850 545"/>
<path class="k" d="M230 355 Q300 410 325 495"/>
<path class="k" d="M790 325 Q715 370 715 455"/>
<path class="w" d="M1060 410 L1150 420 L1335 560 L1185 795 L1010 705Z"/>
<path class="k" d="M1150 420 L1335 560 M1010 705 L1185 795"/>
<ellipse class="bw" cx="1265" cy="678" rx="72" ry="128" transform="rotate(32 1265 678)"/>
<ellipse class="t" cx="1272" cy="682" rx="50" ry="96" transform="rotate(32 1272 682)"/>
<ellipse class="k" cx="1280" cy="686" rx="30" ry="58" transform="rotate(32 1280 686)"/>
<path class="kw" d="M905 395 L1035 340 L1150 412 L1160 445 Q1010 470 1010 705 L985 740 L845 600 L850 545Z"/>
<path class="k" d="M905 395 L965 465 L935 640 L985 740 M965 465 L1100 400 L1150 412 M850 600 L935 640 M1100 400 L1035 340"/>
<path class="t" d="M1085 410 Q965 500 975 650 Q985 700 1010 705"/>
<ellipse class="f" cx="1095" cy="580" rx="6" ry="6" transform="rotate(0 1095 580)"/>
</g>
<!-- parts_valve7 -->
<g class="hv">
<g transform="translate(940,1000) scale(0.21333)">
<path class="kw" d="M300 985 L318 1048 L350 1040 L340 1000Z"/>
<path class="kw" d="M425 1025 L442 1118 L512 1085 L503 995Z"/>
<ellipse class="f" cx="468" cy="1043" rx="7" ry="9" transform="rotate(0 468 1043)"/>
<path class="kw" d="M565 950 L605 995 L645 985 L625 915Z"/>
<path class="t" d="M590 935 L612 985"/>
<path class="kw" d="M150 890 L165 912 L400 1040 L788 805 L775 790"/>
<path class="kw" d="M345 660 L715 440 L775 790 L395 1020Z"/>
<path class="kw" d="M95 540 L475 305 L715 440 L345 660Z"/>
<path class="b" d="M348 652 L712 432"/>
<path class="kw" d="M105 536 Q95 540 96 552 L148 880 Q150 892 160 896 L385 1016 Q395 1020 394 1008 L346 672 Q345 660 335 655Z"/>
<ellipse class="k" cx="232" cy="755" rx="96" ry="132" transform="rotate(-14 232 755)"/>
<path class="k" d="M165 655 L255 650 L322 745 L312 850 L228 885 L148 780Z"/>
<ellipse class="k" cx="218" cy="768" rx="66" ry="98" transform="rotate(-14 218 768)"/>
<path class="t" d="M255 650 L262 680 M322 745 L300 760 M312 850 L290 835"/>
</g>
<g transform="translate(1030,1010) scale(0.14667)">
<path class="kw" d="M60 335 L280 210 L495 328 L275 462 L40 380 Z"/>
<path class="b" d="M62 337 L275 462"/>
<path class="k" d="M40 380 L0 402"/>
<path class="kw" d="M275 462 L545 297 L610 340 L610 400 L395 527 Z"/>
<path class="k" d="M395 527 L600 405"/>
<path class="w" d="M395 527 L440 590 L490 870 L590 920 L665 950 L640 770 L570 690 L570 640 L610 620 L610 400Z"/>
<path class="k" d="M395 527 L440 590 L490 870 L590 920 L665 950 L640 770 L570 690 L570 640"/>
<path class="k" d="M400 540 L570 640 M570 690 L590 920 M440 590 L425 560"/>
<path class="k" d="M570 640 L690 545"/>
<path class="kw" d="M460 215 L715 50 L890 155 L920 225 L975 440 L840 520 L690 420 L620 390 L610 340 L545 297 L440 290 Z"/>
<path class="k" d="M460 215 L480 200 L700 275 L890 158 M700 275 L720 330 L920 225 M610 340 L690 385 L720 330 M690 385 L690 420 M480 200 L545 297"/>
<path class="kw" d="M690 545 L840 528 L950 600 L965 680 L905 700 L830 960 L665 950 L640 770 L570 690 Z"/>
<path class="k" d="M690 545 L760 590 L700 740 L640 770 M760 590 L870 565 L950 600 M775 545 L870 565"/>
<path class="t" d="M600 640 L640 610 L700 740"/>
<path class="k" d="M905 690 Q790 610 715 740 Q680 860 740 930 L830 965"/>
<path class="t" d="M890 720 Q800 660 745 760 Q715 860 770 930"/>
<path class="k" d="M960 690 L1010 720 M830 965 L900 985"/>
<path class="k" d="M985 715 Q880 760 850 880 Q845 940 880 975"/>
<path class="t" d="M1010 735 Q920 790 895 900 Q890 950 915 985"/>
<path class="kw" d="M993.8 1083.6L980.8 1076.9L968.8 1068.2L958 1057.6L948.4 1045.3L940.2 1031.4L933.4 1015.9L928.2 999.2L924.6 981.4L922.6 962.6L922.2 943.1L923.5 923.1L926.4 902.8L930.9 882.5L937 862.3L944.6 842.5L953.6 823.3L963.9 804.9L975.4 787.5L987.9 771.3L1001.4 756.5L1015.7 743.2L1030.6 731.6L1045.9 721.8L1061.6 714L1077.4 708.1L1093.1 704.3L1108.7 702.7L1123.8 703.1L1138.4 705.7L1152.2 710.4L1165.2 717.1L1177.2 725.8L1188 736.4L1197.6 748.7L1205.8 762.6L1212.6 778.1L1217.8 794.8L1221.4 812.6L1223.4 831.4L1223.8 850.9L1222.5 870.9L1219.6 891.2L1215.1 911.5L1209 931.7L1201.4 951.5L1192.4 970.7L1182.1 989.1L1170.6 1006.5L1158.1 1022.7L1144.6 1037.5L1130.3 1050.8L1115.4 1062.4L1100.1 1072.2L1084.4 1080L1068.6 1085.9L1052.9 1089.7L1037.3 1091.3L1022.2 1090.9L1007.6 1088.3L993.8 1083.6Z"/>
<path class="w" d="M1152.8 1175.7L993.8 1083.6L1152.2 710.4L1323.2 774.3Z"/>
<path class="tooth" d="M936.9 1024.5L1091.7 1112.1"/>
<path class="tooth" d="M924.1 978L1077.9 1062.1"/>
<path class="tooth" d="M923.3 924.9L1077 1005"/>
<path class="tooth" d="M934.6 869.6L1089.2 945.5"/>
<path class="tooth" d="M957.2 816.5L1113.5 888.4"/>
<path class="tooth" d="M989.1 769.9L1147.8 838.3"/>
<path class="tooth" d="M1027.8 733.6L1189.4 799.3"/>
<path class="tooth" d="M1070.2 710.5L1235 774.5"/>
<path class="tooth" d="M1112.8 702.6L1280.8 765.9"/>
<path class="tooth" d="M1152.2 710.4L1323.2 774.3"/>
<path class="tooth" d="M1185.2 733.3L1358.6 799"/>
<path class="tooth" d="M1209.1 769.5L1384.3 837.9"/>
<path class="bw" d="M1149.8 1182.7L1144.7 1176.1L1141.8 1165.8L1137.7 1158.6L1130.1 1157.7L1120.7 1159.4L1113.1 1157.2L1110.1 1148.4L1109.9 1136.6L1107.9 1127.7L1101.5 1123.9L1092.7 1122L1086.6 1116.9L1085.9 1106.7L1088.4 1094.4L1088.6 1084.3L1083.8 1078L1076.5 1072.7L1072.3 1065.2L1074 1054.3L1079 1042.5L1081.5 1032.1L1078.7 1023.7L1073.4 1015.6L1071.4 1006.1L1075.4 995.5L1082.4 985.1L1087 975.3L1086.4 965.5L1083.6 955.1L1084 944.5L1089.9 935L1098.5 926.9L1104.8 918.4L1106.5 908.1L1106.4 896.2L1109.1 885.4L1116.4 877.8L1125.9 872.6L1133.3 866.2L1137.2 856.1L1139.8 843.7L1144.6 833.5L1152.8 828.4L1162.4 826.6L1170.3 822.7L1176 813.7L1181.1 801.9L1187.7 793.1L1196.1 790.9L1205 792.6L1212.9 791.6L1219.9 784.4L1227.1 774.1L1234.9 767.5L1242.8 768.4L1250.2 773.4L1257.4 775.4L1265.3 770.6L1274 762.5L1282.3 758.6L1289.1 762.5L1294.5 770.5L1300.4 775.3L1308.4 773.3L1317.9 768.2L1326.2 767.3L1331.3 773.9L1334.2 784.2L1338.3 791.4L1345.9 792.3L1355.3 790.6L1362.9 792.8L1365.9 801.6L1366.1 813.4L1368.1 822.3L1374.5 826.1L1383.3 828L1389.4 833.1L1390.1 843.3L1387.6 855.6L1387.4 865.7L1392.2 872L1399.5 877.3L1403.7 884.8L1402 895.7L1397 907.5L1394.5 917.9L1397.3 926.3L1402.6 934.4L1404.6 943.9L1400.6 954.5L1393.6 964.9L1389 974.7L1389.6 984.5L1392.4 994.9L1392 1005.5L1386.1 1015L1377.5 1023.1L1371.2 1031.6L1369.5 1041.9L1369.6 1053.8L1366.9 1064.6L1359.6 1072.2L1350.1 1077.4L1342.7 1083.8L1338.8 1093.9L1336.2 1106.3L1331.4 1116.5L1323.2 1121.6L1313.6 1123.4L1305.7 1127.3L1300 1136.3L1294.9 1148.1L1288.3 1156.9L1279.9 1159.1L1271 1157.4L1263.1 1158.4L1256.1 1165.6L1248.9 1175.9L1241.1 1182.5L1233.2 1181.6L1225.8 1176.6L1218.6 1174.6L1210.7 1179.4L1202 1187.5L1193.7 1191.4L1186.9 1187.5L1181.5 1179.5L1175.6 1174.7L1167.6 1176.7L1158.1 1181.8L1149.8 1182.7Z"/>
<path class="k" d="M1100.3 1011.7L1101.1 996.9L1103 981.9L1106 966.8L1110 951.8L1114.9 936.9L1120.7 922.3L1127.5 908.1L1135.1 894.5L1143.4 881.4L1152.5 869.2L1162.2 857.7L1172.4 847.2L1183.1 837.7L1194.2 829.2L1205.6 822L1217.2 815.9L1228.9 811.1L1240.6 807.7L1252.2 805.5L1263.6 804.8L1274.8 805.3L1285.5 807.3L1295.9 810.5L1305.7 815.1L1314.9 821L1323.4 828.1L1331.1 836.3L1338 845.7L1344.1 856.1L1349.2 867.4"/>
</g>
</g>
<!-- parts_valve18 -->
<g class="hv">
<g transform="translate(1180,840) scale(0.18667)">
<path class="kw" d="M640 350 L950 178 L1110 95 Q1180 80 1225 150 Q1265 240 1235 330 Q1225 350 1210 355 L1080 425 L880 540 Z"/>
<path class="k" d="M923.7 181.3L933 181.3L944.1 185.2L956.6 193.2L970.1 204.7L984.1 219.6L998.1 237.2L1011.7 256.9L1024.4 278.2L1035.7 300.2L1045.2 322.1L1052.7 343.4L1057.9 363.1L1060.6 380.7L1060.7 395.5L1058.2 407L1053.1 414.9"/>
<path class="k" d="M943.7 170.8L953 170.8L964.1 174.7L976.6 182.7L990.1 194.2L1004.1 209.1L1018.1 226.7L1031.7 246.4L1044.4 267.7L1055.7 289.7L1065.2 311.6L1072.7 332.9L1077.9 352.6L1080.6 370.2L1080.7 385L1078.2 396.5L1073.1 404.4"/>
<path class="k" d="M963.7 160.3L973 160.3L984.1 164.2L996.6 172.2L1010.1 183.7L1024.1 198.6L1038.1 216.2L1051.7 235.9L1064.4 257.2L1075.7 279.2L1085.2 301.1L1092.7 322.4L1097.9 342.1L1100.6 359.7L1100.7 374.5L1098.2 386L1093.1 393.9"/>
<path class="k" d="M983.7 149.8L993 149.8L1004.1 153.7L1016.6 161.7L1030.1 173.2L1044.1 188.1L1058.1 205.7L1071.7 225.4L1084.4 246.7L1095.7 268.7L1105.2 290.6L1112.7 311.9L1117.9 331.6L1120.6 349.2L1120.7 364L1118.2 375.5L1113.1 383.4"/>
<path class="k" d="M1003.7 139.3L1013 139.3L1024.1 143.2L1036.6 151.2L1050.1 162.7L1064.1 177.6L1078.1 195.2L1091.7 214.9L1104.4 236.2L1115.7 258.2L1125.2 280.1L1132.7 301.4L1137.9 321.1L1140.6 338.7L1140.7 353.5L1138.2 365L1133.1 372.9"/>
<path class="k" d="M1023.7 128.8L1033 128.8L1044.1 132.7L1056.6 140.7L1070.1 152.2L1084.1 167.1L1098.1 184.7L1111.7 204.4L1124.4 225.7L1135.7 247.7L1145.2 269.6L1152.7 290.9L1157.9 310.6L1160.6 328.2L1160.7 343L1158.2 354.5L1153.1 362.4"/>
<path class="k" d="M1043.7 118.3L1053 118.3L1064.1 122.2L1076.6 130.2L1090.1 141.7L1104.1 156.6L1118.1 174.2L1131.7 193.9L1144.4 215.2L1155.7 237.2L1165.2 259.1L1172.7 280.4L1177.9 300.1L1180.6 317.7L1180.7 332.5L1178.2 344L1173.1 351.9"/>
<path class="k" d="M1063.7 107.8L1073 107.8L1084.1 111.7L1096.6 119.7L1110.1 131.2L1124.1 146.1L1138.1 163.7L1151.7 183.4L1164.4 204.7L1175.7 226.7L1185.2 248.6L1192.7 269.9L1197.9 289.6L1200.6 307.2L1200.7 322L1198.2 333.5L1193.1 341.4"/>
<path class="k" d="M1083.7 97.3L1093 97.3L1104.1 101.2L1116.6 109.2L1130.1 120.7L1144.1 135.6L1158.1 153.2L1171.7 172.9L1184.4 194.2L1195.7 216.2L1205.2 238.1L1212.7 259.4L1217.9 279.1L1220.6 296.7L1220.7 311.5L1218.2 323L1213.1 330.9"/>
<path class="k" d="M1103.7 86.8L1113 86.8L1124.1 90.7L1136.6 98.7L1150.1 110.2L1164.1 125.1L1178.1 142.7L1191.7 162.4L1204.4 183.7L1215.7 205.7L1225.2 227.6L1232.7 248.9L1237.9 268.6L1240.6 286.2L1240.7 301L1238.2 312.5L1233.1 320.4"/>
<path class="k" d="M1123.7 76.3L1133 76.3L1144.1 80.2L1156.6 88.2L1170.1 99.7L1184.1 114.6L1198.1 132.2L1211.7 151.9L1224.4 173.2L1235.7 195.2L1245.2 217.1L1252.7 238.4L1257.9 258.1L1260.6 275.7L1260.7 290.5L1258.2 302L1253.1 309.9"/>
<path class="k" d="M960 175 Q1010 250 1075 425"/>
<path class="kw" d="M150 160 Q230 135 300 155 L470 250 L352 580 L100 405 Q40 300 90 200 Q110 165 150 160Z"/>
<ellipse class="k" cx="118" cy="285" rx="50" ry="120" transform="rotate(29 118 285)"/>
<path class="t" d="M190 158 Q120 210 118 300 Q122 370 150 428"/>
<path class="w" d="M451 300 L640 385 L560 640 L345 520 Z"/>
<path class="ring" d="M330.2 571.3L323.1 569.2L317 565.1L312.1 559.1L308.3 551.3L305.9 541.8L304.7 530.6L304.8 518L306.2 504.1L308.9 489L312.9 473.1L318 456.4L324.3 439.2L331.6 421.8L339.9 404.3L349 387L358.9 370.1L369.3 353.8L380.2 338.3L391.5 323.9L402.9 310.7L414.3 298.9L425.6 288.6L436.7 280L447.3 273.3L457.4 268.3L466.8 265.4L475.4 264.4L483.1 265.4L489.8 268.4L495.4 273.3"/>
<path class="k" d="M352.3 559.2L347.9 555.8L344.4 551.1L341.8 545L340.1 537.6L339.3 529L339.4 519.3L340.5 508.6L342.5 497.1L345.5 484.7L349.3 471.8L353.9 458.3L359.3 444.6L365.4 430.6L372.2 416.6L379.5 402.8L387.4 389.2L395.6 376.1L404.2 363.5L413 351.6L422 340.6L431 330.5L439.9 321.5L448.6 313.6L457.1 307L465.2 301.8L472.9 297.9L480.1 295.4L486.7 294.4L492.6 294.9L497.7 296.8"/>
<path class="t" d="M350 560 L500 603"/>
<path class="f" d="M418 312 L452 292 L612 372 L588 408 L500 398 Z"/>
<path class="ws" d="M470 330 L520 352 M520 372 L565 388"/>
<path class="kw" d="M470 405 L600 352 L725 428 L590 482Z"/>
<path class="k" d="M470 405 L472 430 L590 500 L590 482 M590 500 L725 445 L725 428"/>
<path class="f" d="M575 372 L618 395 L602 410 L560 388Z"/>
<path class="t" d="M690 350 L740 335 M700 365 L745 350"/>
<path class="kw" d="M490 525 L600 465 L790 540 L780 770 L690 830 L620 790 L500 600Z"/>
<path class="k" d="M490 525 L660 610 L790 540 M660 610 L690 830"/>
<path class="t" d="M505 545 L650 620 M670 620 L780 560"/>
<path class="f" d="M420 640 L540 582 Q600 590 640 660 Q670 740 625 795 L490 852Z"/>
<ellipse class="bw" cx="450" cy="747" rx="62" ry="108" transform="rotate(-20 450 747)"/>
<ellipse class="k" cx="450" cy="750" rx="30" ry="55" transform="rotate(-20 450 750)"/>
<path class="kw" d="M780 560 L860 590 L800 800 L780 770Z"/>
<path class="kw" d="M1040 690 L1330 840 Q1375 880 1360 950 Q1335 1010 1275 1000 L1010 862Z"/>
<ellipse class="k" cx="1305" cy="922" rx="52" ry="84" transform="rotate(29 1305 922)"/>
<path class="f" d="M880 620 L980 585 L1120 665 L1030 890 L890 850Z"/>
<ellipse class="kw" cx="1060" cy="778" rx="55" ry="112" transform="rotate(29 1060 778)"/>
<path class="kw" d="M830 612 L940 550 L1000 590 L1005 640 Q900 660 880 860 L800 800 L790 730Z"/>
<path class="k" d="M830 612 L880 650 L850 790 L800 800 M880 650 L960 600 L1000 590 M850 790 L880 860"/>
</g>
<g transform="translate(1180,840) scale(0.18667)">
<ellipse class="kw" cx="165" cy="930" rx="84" ry="124" transform="rotate(-27 165 930)"/>
<ellipse class="k" cx="165" cy="935" rx="40" ry="82" transform="rotate(-27 165 935)"/>
<path class="k" d="M205 900 Q235 905 240 935"/>
</g>
</g>
<!-- parts_labels -->
<path class="ul" d="M903.2 49.9H932"/>
<path class="ld" d="M932 49.9L950.7 236"/>
<text class="lb" x="903" y="45.3">27</text>
<path class="ul" d="M870.7 88.5H898.7"/>
<path class="ld" d="M898.7 88.5L942.7 237.3"/>
<text class="lb" x="870.5" y="84">36</text>
<path class="ul" d="M829.9 100H845.3"/>
<path class="ld" d="M845.3 100L898.7 190.7"/>
<text class="lb" x="829.7" y="96">2</text>
<path class="ul" d="M960.8 94.7H988.5"/>
<path class="ld" d="M988.5 94.7L1002 201"/>
<text class="lb" x="959.8" y="88.8">15</text>
<path class="ul" d="M1018 120H1046"/>
<path class="ld" d="M1046 120L1085 193"/>
<text class="lb" x="1017.8" y="114.7">14</text>
<path class="ul" d="M798.7 126H814"/>
<path class="ld" d="M814 126L892 190.7"/>
<text class="lb" x="799" y="120.8">6</text>
<path class="ul" d="M760 162H785.3"/>
<path class="ld" d="M785.3 162L889.3 218.7"/>
<text class="lb" x="759.8" y="156.8">34</text>
<path class="ul" d="M708 168.8H734.7"/>
<path class="ld" d="M734.7 168.8L836 220"/>
<text class="lb" x="708.4" y="164">40</text>
<path class="ul" d="M705.3 202.7H732.5"/>
<path class="ld" d="M732.5 202.7L858.7 242.7"/>
<text class="lb" x="705.5" y="197.3">48</text>
<path class="ul" d="M699.5 238H726.7"/>
<path class="ld" d="M726.7 238L833.3 266.7"/>
<text class="lb" x="699.1" y="232.5">16</text>
<path class="ul" d="M672 271.2H700"/>
<path class="ld" d="M700 271.2L813.3 341.9"/>
<text class="lb" x="672.9" y="265.9">39</text>
<path class="ul" d="M671 390H692"/>
<path class="ld" d="M692 390L850 522"/>
<text class="lb" x="671.6" y="384">45</text>
<path class="ul" d="M591.7 339.3H620"/>
<path class="ld" d="M620 339.3L693.3 389.3"/>
<text class="lb" x="591.7" y="334">32</text>
<path class="ul" d="M416.4 473.5H444.3"/>
<path class="ld" d="M444.3 473.5L522 500"/>
<text class="lb" x="416.3" y="467.7">24</text>
<path class="ul" d="M398.8 502.9H425.2"/>
<path class="ld" d="M425.2 502.9L472.1 511.7"/>
<text class="lb" x="399.3" y="497.7">33</text>
<path class="ul" d="M358 551.2H385.3"/>
<path class="ld" d="M385.3 551.2L480 578.7"/>
<text class="lb" x="357.7" y="546.7">31</text>
<path class="ul" d="M1330 176H1362.7"/>
<path class="ld" d="M1330 176L1283.3 116.7"/>
<text class="lb" x="1336.3" y="171.7">30</text>
<path class="ul" d="M1333.3 209H1362.7"/>
<path class="ld" d="M1333.3 209L1269.3 126.7"/>
<text class="lb" x="1336.3" y="204">35</text>
<path class="ul" d="M1337.3 249.3H1366.7"/>
<path class="ld" d="M1337.3 249.3L1260 133.3"/>
<text class="lb" x="1339.7" y="245">50</text>
<path class="ul" d="M1256.7 325H1287.3"/>
<path class="ld" d="M1256.7 325L1231.7 273.3"/>
<text class="lb" x="1260" y="320.7">25</text>
<path class="ul" d="M1265 366H1281.7"/>
<path class="ld" d="M1265 366L1156.7 280"/>
<text class="lb" x="1267.3" y="361">5</text>
<path class="ul" d="M1266.7 415H1296.7"/>
<path class="ld" d="M1266.7 415L1166.7 346.7"/>
<text class="lb" x="1270.7" y="410">51</text>
<path class="ul" d="M1269.3 463.3H1300"/>
<path class="ld" d="M1269.3 463.3L1170 414.3"/>
<text class="lb" x="1272.3" y="460">26</text>
<path class="ul" d="M1209 501.7H1238.5"/>
<path class="ld" d="M1209 501.7L1071.7 380"/>
<text class="lb" x="1212.3" y="497.3">42</text>
<path class="ul" d="M1137.3 530H1154"/>
<path class="ld" d="M1137.3 530L1015 381.7"/>
<text class="lb" x="1139.7" y="525">9</text>
<path class="ul" d="M1105 594H1133.3"/>
<path class="ld" d="M1105 594L1036.7 516.7"/>
<text class="lb" x="1107.3" y="589">38</text>
<path class="ul" d="M1073.3 634.3H1103.3"/>
<path class="ld" d="M1073.3 634.3L983.3 540"/>
<text class="lb" x="1076.3" y="629.3">46</text>
<path class="ul" d="M1022.7 646.7H1051.7"/>
<path class="ld" d="M1022.7 646.7L873.3 486.7"/>
<text class="lb" x="1025.6" y="642.3">41</text>
<path class="ul" d="M1005 683.3H1034"/>
<path class="ld" d="M1005 683.3L855 526.7"/>
<text class="lb" x="1007.3" y="678.3">37</text>
<path class="ul" d="M976 701H992.7"/>
<path class="ld" d="M976 701L916.7 613.3"/>
<text class="lb" x="978.9" y="696.7">4</text>
<path class="ul" d="M926.7 718.3H955"/>
<path class="ld" d="M926.7 718.3L860 585"/>
<text class="lb" x="928.3" y="713.3">28</text>
<path class="ul" d="M890.7 753.3H907.3"/>
<path class="ld" d="M890.7 753.3L871.7 696.7"/>
<text class="lb" x="893" y="748.3">8</text>
<path class="ul" d="M733.3 736H763.3"/>
<path class="ld" d="M763.3 736L810 650"/>
<text class="lb" x="734" y="730.7">53</text>
<path class="ul" d="M1263.3 847.7H1290.7"/>
<path class="ld" d="M1290.7 847.7L1331.7 909.3"/>
<text class="lb" x="1263.5" y="842.7">18</text>
<path class="ul" d="M1296.7 1119H1326"/>
<path class="ld" d="M1296.7 1119L1218.3 1007.3"/>
<text class="lb" x="1299" y="1114">21</text>
<path class="ul" d="M1151.7 1241H1168.3"/>
<path class="ld" d="M1151.7 1241L1113.3 1086.7"/>
<text class="lb" x="1154" y="1236">7</text>
<path class="ul" d="M879.3 1136H909.3"/>
<path class="ld" d="M909.3 1136L966.7 1046.7"/>
<text class="lb" x="880" y="1131.7">54</text>
<path class="ul" d="M723.3 1184.3H753.3"/>
<path class="ld" d="M723.3 1184.3L680 1125"/>
<text class="lb" x="726.3" y="1179.3">43</text>
<path class="ul" d="M270.7 1065.7H299.3"/>
<path class="ld" d="M299.3 1065.7L299.2 965"/>
<text class="lb" x="271.3" y="1060.7">44</text>
<path class="ul" d="M356 1072.7H385"/>
<path class="ld" d="M356 1072.7L331.7 1006.7"/>
<text class="lb" x="358.9" y="1067.3">49</text>
<path class="ul" d="M63.3 1006H81.7"/>
<path class="ld" d="M81.7 1006L146.7 974"/>
<text class="lb" x="63.3" y="1000.7">3</text>
<path class="ul" d="M136 1054H165.7"/>
<path class="ld" d="M165.7 1054L206.7 996.7"/>
<text class="lb" x="136.3" y="1049">29</text>
<path class="ul" d="M609.3 886.7H627.5"/>
<path class="ld" d="M609.3 886.7L528.8 787.5"/>
<text class="lb" x="613.3" y="882.7">1</text>
<text class="lb" x="779.5" y="864.6" style="font-size:20.6px" textLength="271.5" lengthAdjust="spacingAndGlyphs">Места нанесения герметика</text>
<path class="ul" d="M776.7 871H1053.3"/>
<path class="ld" d="M776.7 871L281 1257"/>
<path class="ld" d="M1053.3 871L995 1035"/>
<path class="ld" d="M1053.3 871L1262 956"/>
<!-- parts_footer -->
<rect x="0" y="1370.4" width="1500" height="1.3" fill="#222"/>
<rect x="31.2" y="1406.2" width="215" height="59.8" fill="#838287"/>
<path stroke="#fff" stroke-width="6.6" fill="none" stroke-linejoin="round" stroke-linecap="butt" d="M96 1425.5 H115.5 Q118.3 1425.5 118.3 1428.3 V1442.7 Q118.3 1445.5 115.5 1445.5 H95.5 M106 1435.7 H118"/>
<path stroke="#fff" stroke-width="6.6" fill="none" stroke-linejoin="round" stroke-linecap="butt" d="M130.8 1422.2 V1432.9 Q130.8 1435.7 133.6 1435.7 H154.8 M154.8 1422.2 V1442.7 Q154.8 1445.5 152 1445.5 H130"/>
<path stroke="#fff" stroke-width="6.6" fill="none" stroke-linejoin="round" stroke-linecap="butt" d="M190.5 1425.5 H167.2 V1445.5 H186.2 Q189 1445.5 189 1442.7 V1438.5 Q189 1435.7 186.2 1435.7 H167.2"/>
<path stroke="#fff" stroke-width="6.6" fill="none" stroke-linejoin="round" stroke-linecap="butt" d="M201.7 1448.8 V1425.5 H224.4 Q227.2 1425.5 227.2 1428.3 V1432.9 Q227.2 1435.7 224.4 1435.7 H201.7"/>
<path fill="#fff" d="M66.7 1417.1 L85.2 1436 L66.7 1455.2 L56.5 1444.8 L56.5 1427.3Z"/>
<rect x="46.8" y="1430.9" width="22" height="3.0" rx="1.5" fill="#fff"/>
<rect x="46.8" y="1435.0" width="22" height="3.0" rx="1.5" fill="#fff"/>
<rect x="46.8" y="1439.1" width="22" height="3.0" rx="1.5" fill="#fff"/>
<path fill="none" stroke="#838287" stroke-width="1.5" d="M57 1426.6 H70 Q74.5 1426.6 74.5 1431 Q74.5 1435 72 1436 Q75 1437.5 74.8 1441.2 Q74.5 1445.6 70 1445.6 H57"/>
<path fill="none" stroke="#838287" stroke-width="1.3" d="M46 1434.45 H70.5 M46 1438.55 H70.5"/>
<text x="288.5" y="1451.3" font-size="39.5" fill="#111" textLength="119.5" lengthAdjust="spacingAndGlyphs">ТПГ-80.</text>
<text x="414.5" y="1451.3" font-size="39.5" fill="#222" stroke="#fff" stroke-width="1.0" textLength="587" lengthAdjust="spacingAndGlyphs">Схема 1-1 (Схема-состав. Пушка газовая)</text>
</svg>
</body></html>
